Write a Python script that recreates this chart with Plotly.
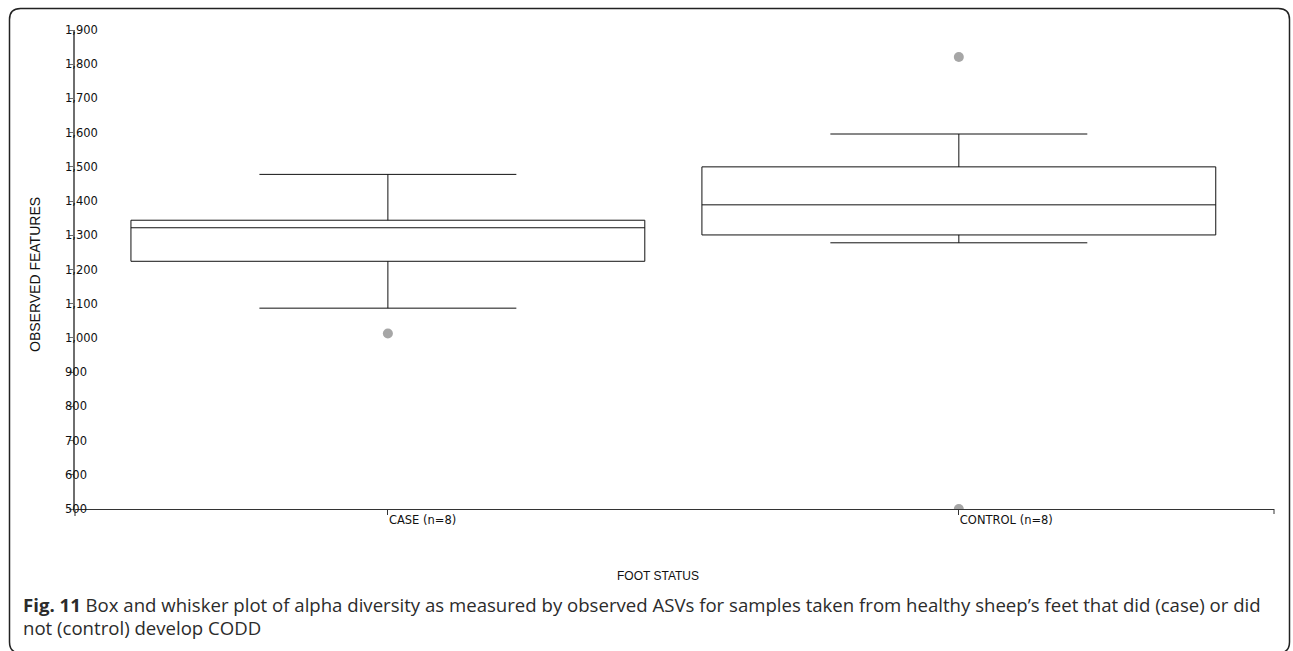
import plotly.graph_objects as go

# Observed features (ASVs) per foot status group
groups = ["CASE (n=8)", "CONTROL (n=8)"]
q1 = [1224, 1301]
median = [1322, 1389]
q3 = [1344, 1500]
lower_whisker = [1087, 1278]
upper_whisker = [1478, 1596]

# Points beyond the whiskers: group index and value
outlier_group = [0, 1, 1]
outlier_value = [1013, 1821, 500]

y_ticks = list(range(500, 2000, 100))

caption_bold = "Fig. 11"
caption_line1 = ("Box and whisker plot of alpha diversity as measured by observed ASVs for samples "
                 "taken from healthy sheep’s feet that did (case) or did")
caption_line2 = "not (control) develop CODD"

W, H = 1293, 651
ml, mr, mt, mb = 75, 19, 30, 142
pw, ph = W - ml - mr, H - mt - mb


def fx(px):
    return (px - ml) / pw


def fy(py):
    return (H - mb - py) / ph


pos = list(range(len(groups)))

fig = go.Figure()
fig.add_trace(go.Box(
    x=pos, q1=q1, median=median, q3=q3,
    lowerfence=lower_whisker, upperfence=upper_whisker,
    width=0.9, whiskerwidth=0.5,
    line=dict(color="#111111", width=1),
    fillcolor="rgba(0,0,0,0)",
    boxpoints=False, showlegend=False, hoverinfo="skip",
))
fig.add_trace(go.Scatter(
    x=outlier_group, y=outlier_value, mode="markers",
    marker=dict(color="#a6a6a6", size=10, line=dict(width=0)),
    showlegend=False, cliponaxis=True,
))

tick_font = dict(family="DejaVu Sans", size=11.5, color="#111111")

fig.update_xaxes(
    range=[-0.548, 1.552], tickvals=pos, ticktext=groups,
    showgrid=False, zeroline=False,
    showline=True, linecolor="#333333", linewidth=1,
    ticks="outside", ticklen=5, tickcolor="#333333",
    ticklabelposition="outside right", tickfont=tick_font,
)
fig.update_yaxes(
    range=[500, 1900], tickvals=y_ticks,
    showgrid=False, zeroline=False,
    showline=True, linecolor="#6e6e6e", linewidth=1.5,
    ticks="outside", ticklen=4, tickcolor="#6e6e6e",
    showticklabels=False,
)

# y tick labels sit left-aligned across the axis line
annotations = [
    dict(text=f"{v:,}", xref="paper", yref="y", x=fx(63), y=v,
         xanchor="left", yanchor="middle", showarrow=False, font=tick_font)
    for v in y_ticks
]

title_font = dict(family="Liberation Sans", size=12, color="#111111")
cap_font = dict(family="Open Sans", size=18.6, color="#2b2b2b")
annotations += [
    dict(text="OBSERVED FEATURES", xref="paper", yref="paper", x=fx(35), y=fy(275),
         xanchor="center", yanchor="middle", textangle=-90, showarrow=False,
         font=dict(family="Liberation Sans", size=14, color="#111111")),
    dict(text="FOOT STATUS", xref="paper", yref="paper", x=fx(658), y=fy(576),
         xanchor="center", yanchor="middle", showarrow=False, font=title_font),
    dict(text=f"<b>{caption_bold}</b> {caption_line1}", xref="paper", yref="paper",
         x=fx(21), y=fy(604), xanchor="left", yanchor="middle",
         showarrow=False, font=cap_font),
    dict(text=caption_line2, xref="paper", yref="paper",
         x=fx(21), y=fy(627), xanchor="left", yanchor="middle",
         showarrow=False, font=cap_font),
]

# Rounded frame around the figure
L, T, R, B, r = 9.5, 8.5, 1289.5, 653, 11
frame = (f"M {fx(L)},{fy(T + r)} Q {fx(L)},{fy(T)} {fx(L + r)},{fy(T)} "
         f"L {fx(R - r)},{fy(T)} Q {fx(R)},{fy(T)} {fx(R)},{fy(T + r)} "
         f"L {fx(R)},{fy(B - r)} Q {fx(R)},{fy(B)} {fx(R - r)},{fy(B)} "
         f"L {fx(L + r)},{fy(B)} Q {fx(L)},{fy(B)} {fx(L)},{fy(B - r)} Z")
shapes = [
    dict(type="path", xref="paper", yref="paper", path=frame,
         line=dict(color="#222222", width=1.5)),
    # short extension of the y axis below the baseline
    dict(type="line", xref="paper", yref="paper", x0=0, x1=0, y0=0, y1=fy(516),
         line=dict(color="#6e6e6e", width=1.5)),
    # end tick on the x axis
    dict(type="line", xref="paper", yref="paper", x0=1, x1=1, y0=0, y1=fy(514),
         line=dict(color="#333333", width=1)),
]

fig.update_layout(
    width=W, height=H,
    margin=dict(l=ml, r=mr, t=mt, b=mb),
    paper_bgcolor="white", plot_bgcolor="white",
    annotations=annotations, shapes=shapes,
)

fig.write_html("out.html")
